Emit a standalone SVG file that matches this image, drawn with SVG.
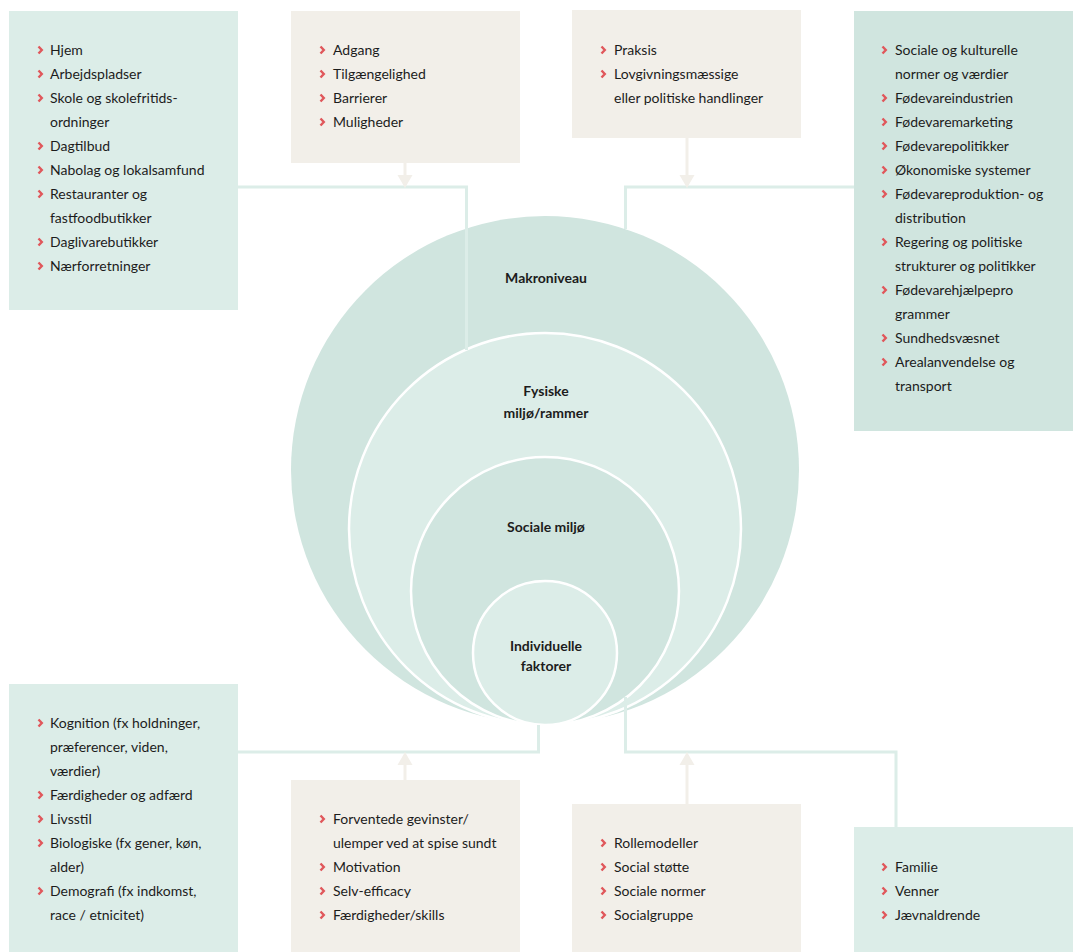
<svg xmlns="http://www.w3.org/2000/svg" width="1073" height="952" viewBox="0 0 1073 952">
<style>
.t{font-family:Lato,"Open Sans","Liberation Sans",sans-serif;font-size:14px;fill:#1c1c1c}
.h{font-family:Lato,"Open Sans","Liberation Sans",sans-serif;font-size:14px;font-weight:bold;fill:#1c1c1c;text-anchor:middle}
.lt{fill:#dcede8}
.dk{fill:#d0e5df}
.bg{fill:#f2efe9}
.con{fill:none;stroke:#dcede8;stroke-width:3}
.arr{fill:none;stroke:#f2efe9;stroke-width:3}
.ah{fill:#f2efe9}
.ring{stroke:#ffffff;stroke-width:2.5}
</style>
<defs>
<path id="b" d="M-1.5,-3.5 L1.8,0 L-1.5,3.5" fill="none" stroke="#e0575b" stroke-width="2.4" stroke-linejoin="miter"/>
</defs>

<g id="circles">
<g id="makro"><circle cx="545" cy="470" r="254" class="dk"/><text x="546" y="283" class="h">Makroniveau</text></g>
<g id="fysiske"><circle cx="545" cy="529" r="196" class="lt ring"/><text x="546" y="396" class="h">Fysiske</text><text x="546" y="418" class="h">miljø/rammer</text></g>
<g id="sociale"><circle cx="545" cy="591" r="134" class="dk ring"/><text x="546" y="532" class="h">Sociale miljø</text></g>
<g id="individ"><circle cx="545" cy="653" r="72" class="lt ring"/><text x="546" y="651" class="h">Individuelle</text><text x="546" y="671" class="h">faktorer</text></g>
</g>

<g id="connectors">
<path class="con" d="M238,187 H466.5 V350"/>
<path class="con" d="M854,187 H625.5 V229"/>
<path class="con" d="M238,752 H538.5 V725"/>
<path class="con" d="M896,827 V752 H625.5 V697"/>
<path class="arr" d="M405,163 V176"/><polygon class="ah" points="397.5,175 412.5,175 405,188"/>
<path class="arr" d="M687,138 V176"/><polygon class="ah" points="679.5,175 694.5,175 687,188"/>
<path class="arr" d="M405,780 V764"/><polygon class="ah" points="397.5,765 412.5,765 405,752"/>
<path class="arr" d="M687,804 V764"/><polygon class="ah" points="679.5,765 694.5,765 687,752"/>
</g>

<g id="boxA">
<rect x="9" y="11" width="229" height="299" class="lt"/>
<use href="#b" x="40" y="50"/><text x="50" y="55" class="t">Hjem</text>
<use href="#b" x="40" y="74"/><text x="50" y="79" class="t">Arbejdspladser</text>
<use href="#b" x="40" y="98"/><text x="50" y="103" class="t">Skole og skolefritids-</text>
<text x="50" y="127" class="t">ordninger</text>
<use href="#b" x="40" y="146"/><text x="50" y="151" class="t">Dagtilbud</text>
<use href="#b" x="40" y="170"/><text x="50" y="175" class="t">Nabolag og lokalsamfund</text>
<use href="#b" x="40" y="194"/><text x="50" y="199" class="t">Restauranter og</text>
<text x="50" y="223" class="t">fastfoodbutikker</text>
<use href="#b" x="40" y="242"/><text x="50" y="247" class="t">Daglivarebutikker</text>
<use href="#b" x="40" y="266"/><text x="50" y="271" class="t">Nærforretninger</text>
</g>

<g id="boxB">
<rect x="291" y="11" width="229" height="152" class="bg"/>
<use href="#b" x="322" y="50"/><text x="333" y="55" class="t">Adgang</text>
<use href="#b" x="322" y="74"/><text x="333" y="79" class="t">Tilgængelighed</text>
<use href="#b" x="322" y="98"/><text x="333" y="103" class="t">Barrierer</text>
<use href="#b" x="322" y="122"/><text x="333" y="127" class="t">Muligheder</text>
</g>

<g id="boxC">
<rect x="572" y="10" width="229" height="128" class="bg"/>
<use href="#b" x="603" y="50"/><text x="614" y="55" class="t">Praksis</text>
<use href="#b" x="603" y="74"/><text x="614" y="79" class="t">Lovgivningsmæssige</text>
<text x="614" y="103" class="t">eller politiske handlinger</text>
</g>

<g id="boxD">
<rect x="854" y="11" width="219" height="420" class="dk"/>
<use href="#b" x="884" y="50"/><text x="895" y="55" class="t">Sociale og kulturelle</text>
<text x="895" y="79" class="t">normer og værdier</text>
<use href="#b" x="884" y="98"/><text x="895" y="103" class="t">Fødevareindustrien</text>
<use href="#b" x="884" y="122"/><text x="895" y="127" class="t">Fødevaremarketing</text>
<use href="#b" x="884" y="146"/><text x="895" y="151" class="t">Fødevarepolitikker</text>
<use href="#b" x="884" y="170"/><text x="895" y="175" class="t">Økonomiske systemer</text>
<use href="#b" x="884" y="194"/><text x="895" y="199" class="t">Fødevareproduktion- og</text>
<text x="895" y="223" class="t">distribution</text>
<use href="#b" x="884" y="242"/><text x="895" y="247" class="t">Regering og politiske</text>
<text x="895" y="271" class="t">strukturer og politikker</text>
<use href="#b" x="884" y="290"/><text x="895" y="295" class="t">Fødevarehjælpepro</text>
<text x="895" y="319" class="t">grammer</text>
<use href="#b" x="884" y="338"/><text x="895" y="343" class="t">Sundhedsvæsnet</text>
<use href="#b" x="884" y="362"/><text x="895" y="367" class="t">Arealanvendelse og</text>
<text x="895" y="391" class="t">transport</text>
</g>

<g id="boxE">
<rect x="9" y="684" width="229" height="268" class="lt"/>
<use href="#b" x="40" y="723"/><text x="50" y="728" class="t">Kognition (fx holdninger,</text>
<text x="50" y="752" class="t">præferencer, viden,</text>
<text x="50" y="776" class="t">værdier)</text>
<use href="#b" x="40" y="795"/><text x="50" y="800" class="t">Færdigheder og adfærd</text>
<use href="#b" x="40" y="819"/><text x="50" y="824" class="t">Livsstil</text>
<use href="#b" x="40" y="843"/><text x="50" y="848" class="t">Biologiske (fx gener, køn,</text>
<text x="50" y="872" class="t">alder)</text>
<use href="#b" x="40" y="891"/><text x="50" y="896" class="t">Demografi (fx indkomst,</text>
<text x="50" y="920" class="t">race / etnicitet)</text>
</g>

<g id="boxF">
<rect x="291" y="780" width="229" height="172" class="bg"/>
<use href="#b" x="322" y="819"/><text x="333" y="824" class="t">Forventede gevinster/</text>
<text x="333" y="848" class="t">ulemper ved at spise sundt</text>
<use href="#b" x="322" y="867"/><text x="333" y="872" class="t">Motivation</text>
<use href="#b" x="322" y="891"/><text x="333" y="896" class="t">Selv-efficacy</text>
<use href="#b" x="322" y="915"/><text x="333" y="920" class="t">Færdigheder/skills</text>
</g>

<g id="boxG">
<rect x="572" y="804" width="229" height="148" class="bg"/>
<use href="#b" x="603" y="843"/><text x="614" y="848" class="t">Rollemodeller</text>
<use href="#b" x="603" y="867"/><text x="614" y="872" class="t">Social støtte</text>
<use href="#b" x="603" y="891"/><text x="614" y="896" class="t">Sociale normer</text>
<use href="#b" x="603" y="915"/><text x="614" y="920" class="t">Socialgruppe</text>
</g>

<g id="boxH">
<rect x="854" y="827" width="219" height="125" class="lt"/>
<use href="#b" x="884" y="867"/><text x="895" y="872" class="t">Familie</text>
<use href="#b" x="884" y="891"/><text x="895" y="896" class="t">Venner</text>
<use href="#b" x="884" y="915"/><text x="895" y="920" class="t">Jævnaldrende</text>
</g>
</svg>
